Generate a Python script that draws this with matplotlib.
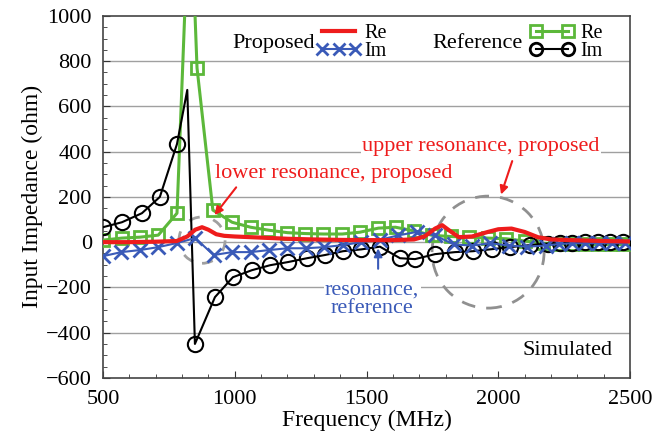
import numpy as np
import matplotlib
matplotlib.use("Agg")
from matplotlib import pyplot as plt
from matplotlib.patches import Ellipse
from matplotlib.lines import Line2D
from matplotlib.ticker import MultipleLocator

plt.rcParams['font.family'] = ['Liberation Serif', 'DejaVu Serif']

# reference antenna, imaginary part (black circles)
ref_im_f = [500, 572, 648, 716, 781, 820, 849, 925, 993, 1065, 1134, 1202, 1274, 1342,
            1411, 1480, 1551, 1627, 1684, 1760, 1836, 1904, 1976, 2045, 2120, 2190,
            2234, 2280, 2329, 2378, 2424, 2473]
ref_im = [66, 88, 128, 200, 434, 673, -450, -243, -155, -124, -102, -88, -71, -57,
          -40, -32, -20, -71, -75, -53, -44, -40, -31, -22, -13, -6,
          -4, -2, 0, 0, 0, 0]

# reference antenna, real part (green squares)
ref_re_f = [500, 572, 640, 710, 781, 830, 857, 917, 990, 1060, 1128, 1200, 1268, 1336,
            1408, 1475, 1545, 1610, 1680, 1750, 1820, 1890, 1960, 2030, 2100, 2170,
            2234, 2280, 2329, 2378, 2424, 2473]
ref_re = [9, 18, 22, 31, 128, 1600, 770, 142, 88, 66, 53, 42, 38, 36,
          36, 44, 62, 66, 50, 30, 25, 22, 18, 15, 5, -5,
          -8, -10, -10, -10, -10, -10]

# proposed antenna, imaginary part (blue crosses)
prop_im_f = [500, 570, 640, 710, 780, 850, 920, 990, 1060, 1130, 1200, 1270, 1340, 1410,
             1480, 1550, 1620, 1690, 1760, 1830, 1900, 1970, 2040, 2110, 2180, 2230,
             2280, 2330, 2380, 2430, 2480]
prop_im = [-62, -44, -35, -22, -4, 18, -57, -44, -44, -35, -27, -27, -22, -13,
           0, 10, 30, 45, 30, -10, -15, -5, -15, -20, -15, -8,
           -5, -5, -5, -5, -5]

# proposed antenna, real part (red line)
prop_re_f = [500, 600, 700, 780, 820, 850, 876, 900, 930, 960, 1000, 1100, 1200, 1300,
             1400, 1500, 1600, 1680, 1720, 1760, 1787, 1810, 1850, 1900, 1960, 2000,
             2050, 2100, 2150, 2200, 2300, 2400, 2500]
prop_re = [0, 0, 2, 5, 25, 55, 66, 55, 35, 28, 25, 20, 15, 12,
           10, 9, 9, 12, 25, 60, 75, 55, 22, 25, 45, 57,
           60, 45, 22, 12, 8, 5, 3]

fig = plt.figure(figsize=(6.64, 4.43), dpi=100)
ax = fig.add_axes([0.155, 0.147, 0.794, 0.817])

grid_c = '#a0a0a0'
for yv in range(-400, 1000, 200):
    ax.axhline(yv, color=grid_c, lw=1, zorder=0)

# dashed circles
ax.add_patch(Ellipse((1961, -44), 425, 495, fill=False, ls=(0, (5, 4)),
                     color='#909090', lw=2, zorder=1))
ax.add_patch(Ellipse((876, 9), 175, 205, fill=False, ls=(0, (4, 5)),
                     color='#a0a0a0', lw=2, zorder=1))

ax.plot(ref_re_f, ref_re, color='#5cb83a', lw=2.2, marker='s', ms=8, mfc='none',
        mew=2, zorder=3, markevery=[i for i in range(len(ref_re)) if i != 5])
ax.plot(ref_im_f, ref_im, color='black', lw=1.5, marker='o', ms=11, mfc='none',
        mew=1.5, zorder=4, markevery=[i for i in range(len(ref_im)) if i != 5])
ax.plot(prop_im_f, prop_im, color='#3a5ab8', lw=1.5, marker='x', ms=10, mew=2,
        zorder=5)
ax.plot(prop_re_f, prop_re, color='#ee1c1c', lw=3, zorder=6)

ax.set_xlim(500, 2500)
ax.set_ylim(-600, 1000)
ax.xaxis.set_major_locator(MultipleLocator(500))
ax.xaxis.set_minor_locator(MultipleLocator(100))
ax.yaxis.set_major_locator(MultipleLocator(200))
ax.yaxis.set_minor_locator(MultipleLocator(50))
ax.tick_params(which='both', direction='in', labelsize=16, colors='#333333')
ax.tick_params(which='major', length=5)
ax.tick_params(which='minor', length=3)
ax.tick_params(axis='x', pad=9)
ax.tick_params(axis='y', pad=8)
for lab in ax.get_xticklabels() + ax.get_yticklabels():
    lab.set_color('black')
for sp in ax.spines.values():
    sp.set_color('#444444')
    sp.set_linewidth(1.2)

ax.set_xlabel('Frequency (MHz)', fontsize=17, labelpad=0)
ax.set_ylabel('Input Impedance (ohm)', fontsize=17, labelpad=2)

# legends
h_prop = [Line2D([], [], color='#ee1c1c', lw=3),
          Line2D([], [], color='#3a5ab8', lw=1.5, marker='x', ms=8, mew=2)]
h_ref = [Line2D([], [], color='#5cb83a', lw=2.2, marker='s', ms=8, mfc='none', mew=2),
         Line2D([], [], color='black', lw=1.5, marker='o', ms=9, mfc='none', mew=2)]
leg1 = ax.legend(h_prop, ['Re', 'Im'], loc='upper left', bbox_to_anchor=(0.405, 0.978),
                 frameon=False, fontsize=14.5, handlelength=2.2, handletextpad=0.2,
                 labelspacing=-0.05, handleheight=0.7, borderpad=0, borderaxespad=0,
                 numpoints=3)
ax.add_artist(leg1)
ax.legend(h_ref, ['Re', 'Im'], loc='upper left', bbox_to_anchor=(0.81, 0.978),
          frameon=False, fontsize=14.5, handlelength=2.2, handletextpad=0.3,
          labelspacing=-0.05, handleheight=0.7, borderpad=0, borderaxespad=0,
          numpoints=2)
ax.text(0.402, 0.925, 'Proposed', transform=ax.transAxes, ha='right', va='center',
        fontsize=16)
ax.text(0.797, 0.925, 'Reference', transform=ax.transAxes, ha='right', va='center',
        fontsize=16)

red = '#ee1c1c'
blue = '#3a5ab8'
ax.text(1483, 425, 'upper resonance, proposed', color=red, fontsize=16, ha='left',
        va='center', zorder=7,
        bbox=dict(facecolor='white', edgecolor='none', pad=1))
ax.text(925, 305, 'lower resonance, proposed', color=red, fontsize=16, ha='left',
        va='center', zorder=7)
ax.annotate('', xy=(917, 110), xytext=(1012, 252),
            arrowprops=dict(arrowstyle='-|>', color=red, lw=1.5, mutation_scale=12),
            zorder=7)
ax.annotate('', xy=(2007, 199), xytext=(2056, 370),
            arrowprops=dict(arrowstyle='-|>', color=red, lw=1.5, mutation_scale=12),
            zorder=7)
ax.text(1521, -252, 'resonance,\nreference', color=blue, fontsize=16, ha='center',
        va='center', linespacing=0.95, zorder=7,
        bbox=dict(facecolor='white', edgecolor='none', pad=1))
ax.annotate('', xy=(1544, -15), xytext=(1544, -130),
            arrowprops=dict(arrowstyle='-|>', color=blue, lw=1.5, mutation_scale=12),
            zorder=7)
ax.text(2432, -478, 'Simulated', fontsize=16, ha='right', va='center')

plt.savefig('out.png', dpi=100)
